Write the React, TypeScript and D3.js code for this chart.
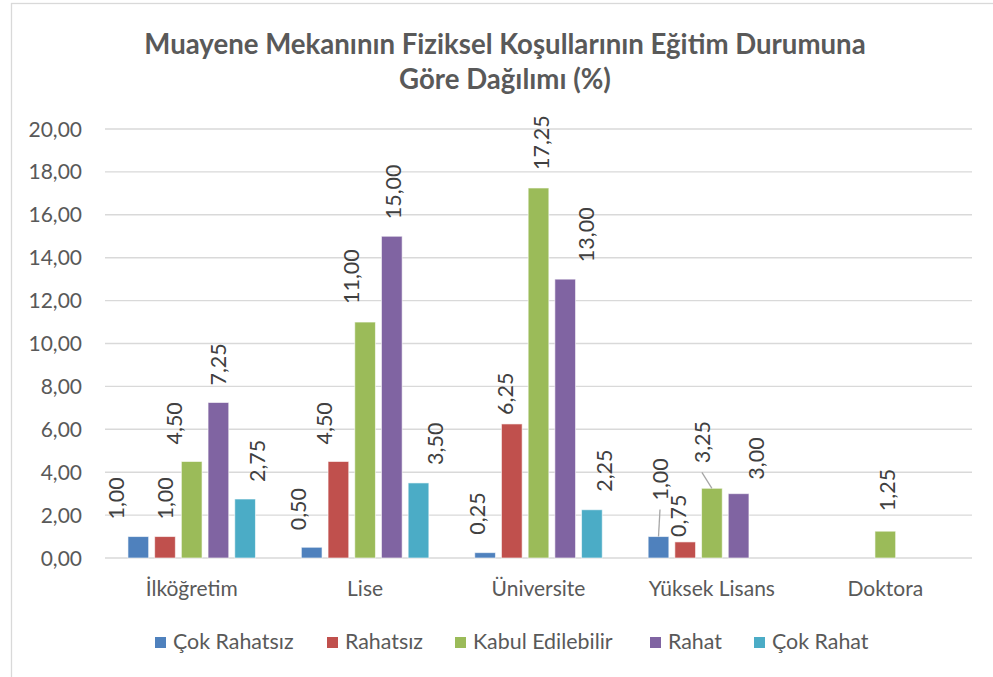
import React from "react";
import * as d3 from "d3";

const categories = ["İlköğretim", "Lise", "Üniversite", "Yüksek Lisans", "Doktora"];
const seriesNames = ["Çok Rahatsız", "Rahatsız", "Kabul Edilebilir", "Rahat", "Çok Rahat"];
const cokRahatsiz = [1.0, 0.5, 0.25, 1.0, null];
const rahatsiz = [1.0, 4.5, 6.25, 0.75, null];
const kabulEdilebilir = [4.5, 11.0, 17.25, 3.25, 1.25];
const rahat = [7.25, 15.0, 13.0, 3.0, null];
const cokRahat = [2.75, 3.5, 2.25, null, null];
const yTicks = [0, 2, 4, 6, 8, 10, 12, 14, 16, 18, 20];

const seriesValues = [cokRahatsiz, rahatsiz, kabulEdilebilir, rahat, cokRahat];
const colors = ["#4F81BD", "#C0504D", "#9BBB59", "#8064A2", "#4BACC6"];

// label placement as moved in the original chart: [dx from bar centre, gap above bar]
const labelMoves: Record<string, [number, number]> = {
  "0-0": [-22, 17], "0-1": [-13, 17], "0-2": [-8, 18], "0-3": [1.5, 36],
  "1-0": [0, 17], "1-1": [-14, 17], "1-2": [-6.5, 9], "1-3": [-6.5, 5],
  "2-0": [-17, 17], "2-1": [-14, 18], "2-2": [2.5, 18], "2-3": [-10, 25], "2-4": [2, 20],
  "3-0": [0, 17], "3-1": [1.5, 17], "3-2": [21, 17], "3-3": [18, 14],
  "4-0": [12, 17], "4-1": [16.5, 18], "4-2": [12, 18],
};
// labels that got a leader line in the original
const leaders = ["0-3", "2-3"];

const W = 993;
const H = 677;
const font = "Lato, 'Open Sans', sans-serif";
const fmt = (v: number) => v.toFixed(2).replace(".", ",");

export default function App() {
  const x0 = d3.scaleBand().domain(categories).range([105, 972]);
  const x1 = d3
    .scaleBand()
    .domain(seriesNames)
    .range([0, 127.5])
    .paddingInner(0.225);
  const groupOffset = (x0.bandwidth() - 127.5) / 2;
  const y = d3.scaleLinear().domain([0, 20]).range([558, 129]);

  const bars: any[] = [];
  const labels: any[] = [];
  seriesValues.forEach((vals, s) => {
    vals.forEach((v, c) => {
      if (v == null) return;
      const bx = x0(categories[c])! + groupOffset + x1(seriesNames[s])!;
      const bw = x1.bandwidth();
      const cx = bx + bw / 2;
      bars.push(
        <rect
          key={`b${s}-${c}`}
          x={bx}
          y={y(v)}
          width={bw}
          height={y(0) - y(v)}
          fill={colors[s]}
          stroke="#ffffff"
          strokeOpacity={0.6}
          strokeWidth={1}
        />
      );
      const key = `${s}-${c}`;
      const [dx, gap] = labelMoves[key] || [0, 17];
      const lx = cx + dx;
      const ly = y(v) - gap;
      if (leaders.includes(key)) {
        labels.push(
          <line
            key={`l${key}`}
            x1={cx}
            y1={y(v)}
            x2={lx}
            y2={ly + 9}
            stroke="#A6A6A6"
            strokeWidth={1.3}
          />
        );
      }
      labels.push(
        <text
          key={`t${key}`}
          transform={`translate(${lx},${ly}) rotate(-90)`}
          dy="0.36em"
          textAnchor="start"
          fontSize={21.5}
          fill="#404040"
          fontFamily={font}
        >
          {fmt(v)}
        </text>
      );
    });
  });

  const legendX = [155, 327, 455, 650, 754];

  return (
    <svg
      width={W}
      height={H}
      style={{ position: "absolute", left: 0, top: 0, background: "#fff" }}
    >
      <rect x={11.5} y={3.5} width={990} height={700} fill="#fff" stroke="#D9D9D9" strokeWidth={1.3} />
      <text
        x={505}
        textAnchor="middle"
        fontFamily={font}
        fontWeight="bold"
        fontSize={27.6}
        fill="#595959"
      >
        <tspan x={505} y={54}>Muayene Mekanının Fiziksel Koşullarının Eğitim Durumuna</tspan>
        <tspan x={505} y={89}>Göre Dağılımı (%)</tspan>
      </text>

      {yTicks.map((t) => (
        <g key={t}>
          <line x1={105} x2={972} y1={y(t)} y2={y(t)} stroke="#D9D9D9" strokeWidth={1.4} />
          <text
            x={82}
            y={y(t)}
            dy="0.36em"
            textAnchor="end"
            fontSize={21}
            fill="#595959"
            fontFamily={font}
          >
            {fmt(t)}
          </text>
        </g>
      ))}

      {bars}
      {labels}

      {categories.map((c) => (
        <text
          key={c}
          x={x0(c)! + x0.bandwidth() / 2}
          y={596}
          textAnchor="middle"
          fontSize={21}
          fill="#595959"
          fontFamily={font}
        >
          {c}
        </text>
      ))}

      {seriesNames.map((n, i) => (
        <g key={n}>
          <rect x={legendX[i]} y={637} width={11} height={11} fill={colors[i]} />
          <text
            x={legendX[i] + 18}
            y={649}
            fontSize={21.4}
            fill="#595959"
            fontFamily={font}
          >
            {n}
          </text>
        </g>
      ))}
    </svg>
  );
}
